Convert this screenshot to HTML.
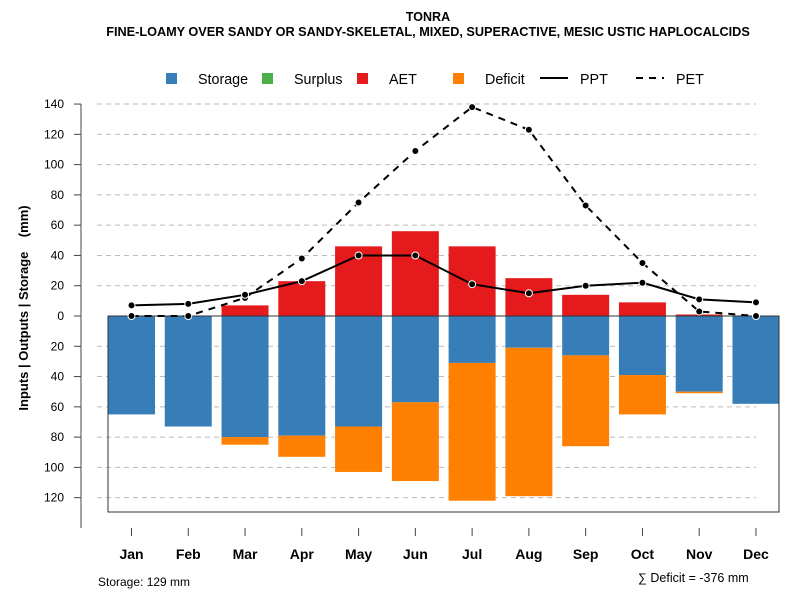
<!DOCTYPE html>
<html><head><meta charset="utf-8"><style>
body{margin:0;background:#fff;}
svg{display:block;font-family:"Liberation Sans",Arial,sans-serif;}
</style></head><body>
<svg id="chart" width="800" height="600" viewBox="0 0 800 600">
<text x="428" y="21" text-anchor="middle" font-size="12.5" font-weight="bold">TONRA</text>
<text x="428" y="36" text-anchor="middle" font-size="12.7" font-weight="bold">FINE-LOAMY OVER SANDY OR SANDY-SKELETAL, MIXED, SUPERACTIVE, MESIC USTIC HAPLOCALCIDS</text>
<g id="legend" font-size="14.3">
<rect x="166" y="73" width="11" height="11" fill="#377EB8"/>
<text x="198" y="84">Storage</text>
<rect x="262" y="73" width="11" height="11" fill="#4DAF4A"/>
<text x="294" y="84">Surplus</text>
<rect x="357" y="73" width="11" height="11" fill="#E41A1C"/>
<text x="389" y="84">AET</text>
<rect x="453" y="73" width="11" height="11" fill="#FF7F00"/>
<text x="485" y="84">Deficit</text>
<line x1="540" y1="78" x2="568" y2="78" stroke="#000" stroke-width="2"/>
<text x="580" y="84">PPT</text>
<line x1="636" y1="78" x2="664" y2="78" stroke="#000" stroke-width="2" stroke-dasharray="7,6"/>
<text x="676" y="84">PET</text>
</g>
<text transform="translate(28,308) rotate(-90)" text-anchor="middle" font-size="13" font-weight="bold" xml:space="preserve">Inputs | Outputs | Storage    (mm)</text>
<text x="98" y="586" font-size="12">Storage: 129 mm</text>
<text x="638" y="582" font-size="12.5">∑ Deficit = -376 mm</text>
</svg>
<script>
const months=["Jan","Feb","Mar","Apr","May","Jun","Jul","Aug","Sep","Oct","Nov","Dec"];
const storage=[65,73,80,79,73,57,31,21,26,39,50,58];
const deficit=[0,0,5,14,30,52,91,98,60,26,1,0];
const aet=[0,0,7,23,46,56,46,25,14,9,1,0];
const ppt=[7,8,14,23,40,40,21,15,20,22,11,9];
const pet=[0,0,12,38,75,109,138,123,73,35,3,0];
const posTicks=[0,20,40,60,80,100,120,140];
const negTicks=[20,40,60,80,100,120];

const svg=document.getElementById('chart');
const NS='http://www.w3.org/2000/svg';
const y0=316, k=1.514;
const yPos=v=>y0-v*k;
const yNeg=v=>y0+v*k;
const xc=i=>131.5+i*56.77;
const bw=47;
function el(t,a){const e=document.createElementNS(NS,t);for(const n in a)e.setAttribute(n,a[n]);svg.appendChild(e);return e;}

posTicks.concat(negTicks.map(v=>-v)).forEach(v=>{
  const y=v>=0?yPos(v):yNeg(-v);
  if(v!==0){const g=el('line',{x1:97,x2:756,y1:y,y2:y,stroke:'#bbb','stroke-dasharray':'5,4'});
  
  }
  const t=el('line',{x1:74,x2:81,y1:y,y2:y,stroke:'#444'});
  
  
  const l=el('text',{x:64,y:y+4,'text-anchor':'end','font-size':'12'});
  l.textContent=Math.abs(v);
  
  
});
const ax=el('line',{x1:81,x2:81,y1:yPos(140),y2:528,stroke:'#444'});



months.forEach((m,i)=>{
  const x=xc(i);
  const s=el('rect',{x:x-bw/2,y:y0,width:bw,height:storage[i]*k,fill:'#377EB8'});
  
  
  if(deficit[i]>0){const d=el('rect',{x:x-bw/2,y:yNeg(storage[i]),width:bw,height:deficit[i]*k,fill:'#FF7F00'});
  
  }
  if(aet[i]>0){const a=el('rect',{x:x-bw/2,y:yPos(aet[i]),width:bw,height:aet[i]*k,fill:'#E41A1C'});
  
  }
  const t=el('line',{x1:x,x2:x,y1:528,y2:536,stroke:'#444'});
  
  
  const l=el('text',{x:x,y:559,'text-anchor':'middle','font-size':'14','font-weight':'bold'});
  l.textContent=m;
  
  
});
const box=el('rect',{x:108,y:y0,width:671,height:196,fill:'none',stroke:'#333'});


const zl=el('line',{x1:108,x2:779,y1:y0,y2:y0,stroke:'#333'});



function series(vals,dash,name){
  const p=el('polyline',{points:vals.map((v,i)=>xc(i)+','+yPos(v)).join(' '),fill:'none',stroke:'#000','stroke-width':2,'stroke-dasharray':dash});
  
  
  vals.forEach((v,i)=>{const c=el('circle',{cx:xc(i),cy:yPos(v),r:3.5,fill:'#000',stroke:'#fff','stroke-width':1});
  
  });
}
series(pet,'7,6','pet');
series(ppt,'none','ppt');
</script>
</body></html>
